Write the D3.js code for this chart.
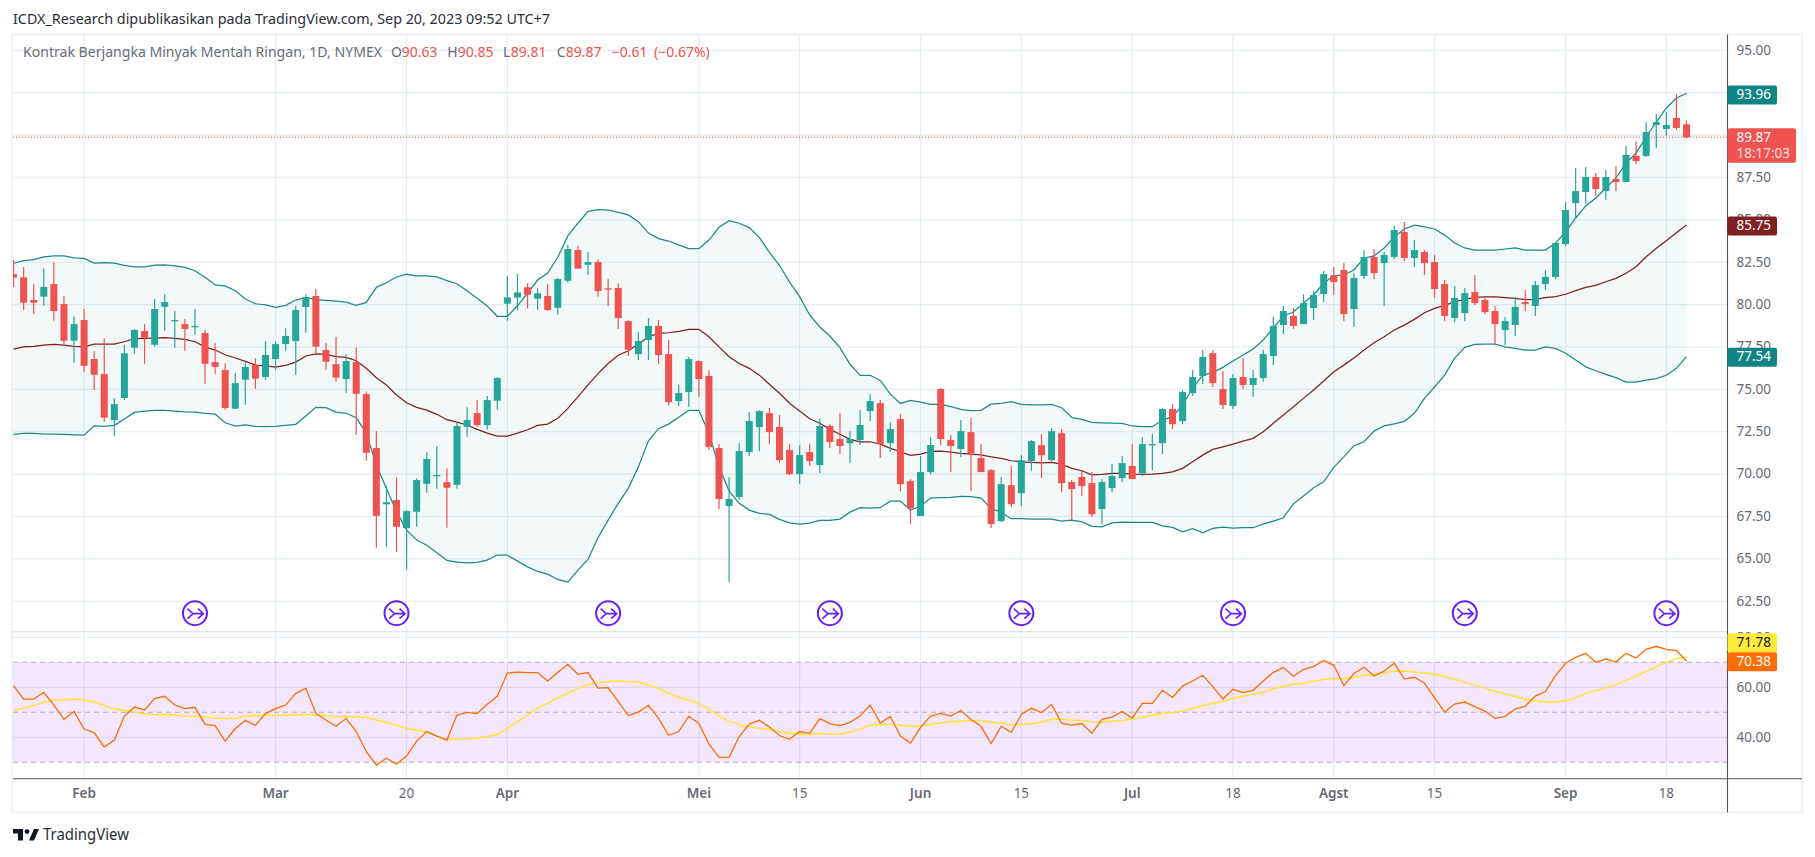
<!DOCTYPE html>
<html>
<head>
<meta charset="utf-8">
<title>CL1! 1D</title>
<script src="https://cdn.jsdelivr.net/npm/d3@7"></script>
<style>
    html, body { margin: 0; padding: 0; background: #fff; overflow: hidden; }
    text { font-family: "Noto Sans", sans-serif; }
</style>
</head>
<body>
<div id="chart"></div>
<script>
// Daily candles (one value per bar, Jan 23 to Sep 20)
const opens = [
    81.80,81.61,80.27,80.47,81.21,80.03,77.87,79.09,76.79,75.90,
    73.19,74.49,77.46,78.44,77.63,79.87,79.05,78.85,78.66,78.32,
    76.61,76.14,73.86,75.57,76.43,75.73,76.79,77.67,77.85,79.86,
    80.51,77.32,76.49,75.61,76.61,74.72,71.54,68.22,68.47,66.82,
    67.78,69.43,69.90,69.53,69.37,72.79,73.60,72.89,74.33,80.05,
    80.41,81.02,80.35,80.51,79.81,81.41,83.22,82.35,82.51,80.96,
    80.98,79.03,77.08,77.91,78.74,77.08,74.31,74.84,76.67,75.79,
    71.54,68.12,68.65,71.30,72.78,73.60,72.78,71.42,70.00,71.30,
    70.54,72.84,72.07,71.83,72.01,73.72,74.19,71.83,73.25,69.59,
    67.53,70.12,75.02,72.01,71.48,72.48,70.95,70.24,67.23,69.35,
    68.88,70.77,71.71,70.83,72.42,69.53,69.83,69.47,67.94,69.18,
    69.77,70.48,70.06,71.71,71.83,73.84,73.13,74.78,75.79,77.14,
    75.02,74.02,75.73,75.26,75.67,76.97,78.80,79.33,78.85,79.80,
    80.62,81.74,82.04,79.74,81.69,82.81,82.45,82.81,84.28,82.75,
    83.10,82.51,81.21,79.21,79.50,80.74,80.27,79.62,78.50,78.80,
    80.15,79.92,81.21,81.63,83.57,85.99,86.64,87.53,86.70,87.41,
    87.23,88.77,88.77,90.59,90.36,91.01,90.63
];
const highs = [
    82.63,82.22,81.20,82.14,82.49,80.51,79.29,79.74,77.26,78.01,
    74.47,77.61,78.56,78.85,80.33,80.62,79.62,79.15,79.74,78.50,
    77.73,76.53,75.95,76.59,76.83,77.83,77.83,78.60,79.92,80.61,
    80.92,77.73,78.09,77.07,77.48,74.88,72.54,69.31,69.81,67.88,
    69.75,71.29,71.66,70.34,73.03,73.94,74.37,74.61,75.71,81.69,
    81.80,81.25,80.96,81.20,81.57,83.51,83.46,83.10,82.67,81.51,
    81.25,79.09,78.38,79.21,79.09,77.91,75.26,76.91,76.70,76.14,
    71.77,69.83,71.83,73.66,73.78,73.90,73.49,71.77,71.71,71.77,
    73.25,72.95,73.60,72.54,73.78,74.72,74.37,73.07,73.54,69.71,
    71.07,72.19,75.08,72.30,73.19,73.31,71.77,70.30,69.83,70.48,
    71.12,72.01,72.36,72.72,72.66,69.65,70.18,70.12,69.71,70.59,
    71.07,71.77,72.19,72.36,73.90,74.13,74.96,76.14,77.32,77.32,
    76.08,75.90,76.85,76.14,77.32,79.27,79.92,79.80,80.62,80.80,
    81.98,82.22,82.45,81.86,83.22,83.28,83.10,84.64,84.87,83.81,
    83.22,82.93,81.45,81.10,80.98,81.75,80.39,79.92,79.27,80.45,
    80.86,81.39,82.04,83.69,86.05,88.06,88.12,87.76,87.94,88.18,
    89.36,89.65,90.77,91.24,91.36,92.42,90.85
];
const lows = [
    81.04,79.68,79.44,79.93,79.05,77.67,76.57,76.04,74.96,73.09,
    72.25,74.37,77.10,76.51,77.52,78.46,77.46,77.28,78.22,75.33,
    75.92,73.80,73.84,74.09,75.04,75.57,76.16,77.28,75.86,78.34,
    77.10,76.16,75.45,74.80,72.32,70.79,65.66,65.72,65.42,64.36,
    66.89,68.90,69.14,66.84,69.14,72.20,72.79,72.62,73.80,79.05,
    79.68,79.76,79.68,79.62,79.40,81.29,82.10,81.75,80.47,79.92,
    78.56,76.97,76.73,76.73,76.49,74.07,74.02,73.96,74.55,71.42,
    67.94,63.63,68.47,71.07,71.36,71.77,70.65,69.94,69.41,70.48,
    70.06,71.54,71.18,70.65,71.71,73.13,70.95,71.30,69.00,67.05,
    67.53,70.00,71.71,70.12,71.01,69.00,70.12,66.82,67.17,68.06,
    68.12,70.18,69.77,70.77,68.94,67.29,68.71,67.47,67.05,68.94,
    69.53,69.71,69.89,70.24,71.18,72.66,72.95,74.61,75.31,75.14,
    73.84,73.84,75.02,74.55,75.43,76.44,78.26,78.56,78.85,79.09,
    80.15,80.57,79.03,78.68,81.51,81.51,79.92,82.69,82.57,82.22,
    81.75,80.39,79.03,78.97,79.03,79.97,79.44,77.61,77.61,78.15,
    79.62,79.33,80.86,81.51,83.46,85.05,85.93,86.41,86.17,86.70,
    87.23,88.29,88.71,89.24,89.95,90.30,89.81
];
const closes = [
    81.59,80.11,80.11,81.04,79.62,77.87,78.85,76.39,75.86,73.33,
    74.13,77.13,78.50,78.05,79.74,80.15,79.09,78.56,78.74,76.51,
    76.33,73.90,75.37,76.32,75.63,77.03,77.67,78.15,79.68,80.43,
    77.52,76.63,75.69,76.67,74.74,71.26,67.54,68.35,66.89,67.82,
    69.65,70.89,69.95,69.20,72.84,73.19,72.89,74.37,75.67,80.43,
    80.72,80.58,80.67,79.68,81.51,83.28,82.12,82.51,80.80,80.88,
    79.21,77.34,77.85,78.74,77.03,74.25,74.78,76.79,75.61,71.60,
    68.53,68.53,71.36,73.13,73.72,72.48,70.83,70.00,71.13,70.77,
    72.84,71.89,71.66,72.07,72.90,74.31,71.77,72.66,69.41,68.00,
    70.12,71.72,72.07,71.66,72.54,71.24,70.12,67.05,69.41,68.23,
    70.83,71.95,71.12,72.54,69.47,69.12,69.30,67.64,69.53,69.89,
    70.65,69.71,71.77,71.77,73.84,72.95,74.84,75.73,76.91,75.37,
    74.08,75.67,75.26,75.67,77.08,78.74,79.62,78.74,80.09,80.57,
    81.80,81.33,79.44,81.57,82.81,81.86,82.93,84.40,82.75,83.22,
    82.45,80.92,79.33,80.39,80.68,80.09,79.56,78.85,79.03,79.86,
    80.03,81.15,81.63,83.63,85.58,86.70,87.53,86.82,87.53,87.23,
    88.83,88.47,90.18,90.77,90.59,90.42,89.87
];

// Bollinger bands
const bbUpper = [
    82.44,82.59,82.65,82.82,82.88,82.87,82.75,82.73,82.45,82.47,
    82.45,82.32,82.23,82.23,82.33,82.35,82.28,82.20,82.00,81.61,
    81.16,81.10,80.82,80.33,80.05,79.99,79.84,79.96,80.27,80.43,
    80.29,80.25,80.21,80.15,79.96,80.13,81.02,81.29,81.63,81.79,
    81.70,81.70,81.63,81.41,81.23,80.82,80.37,79.92,79.31,79.31,
    79.93,80.66,81.45,81.86,82.79,84.06,84.80,85.50,85.60,85.58,
    85.44,85.29,84.89,84.22,83.89,83.75,83.52,83.30,83.30,83.81,
    84.56,84.95,84.80,84.54,83.97,83.08,82.32,81.33,80.47,79.39,
    78.68,78.15,77.46,76.48,75.83,75.83,75.53,74.72,74.17,74.35,
    74.25,74.12,74.13,73.98,73.82,73.74,73.76,74.13,74.17,74.27,
    74.12,74.08,74.08,74.12,73.92,73.35,73.23,73.05,73.03,73.01,
    73.00,72.84,72.80,72.80,73.19,73.39,74.08,75.08,75.84,76.00,
    76.30,76.67,77.03,77.38,77.91,78.62,79.33,79.56,80.09,80.57,
    81.27,81.69,81.75,82.04,82.75,82.87,83.34,83.99,84.46,84.69,
    84.58,84.46,84.10,83.63,83.34,83.22,83.22,83.22,83.28,83.34,
    83.22,83.22,83.22,83.63,84.28,85.11,85.82,86.29,86.88,87.47,
    88.35,88.94,89.89,90.77,91.60,92.19,92.47
];
const bbBasis = [
    77.38,77.50,77.54,77.61,77.66,77.61,77.54,77.51,77.67,77.67,
    77.67,77.81,77.99,78.01,78.03,78.05,78.01,77.95,77.81,77.51,
    77.32,77.04,76.85,76.65,76.43,76.38,76.32,76.42,76.61,76.97,
    77.10,77.07,76.93,76.89,76.69,76.24,75.69,75.26,74.67,74.21,
    73.94,73.78,73.53,73.21,73.07,72.90,72.64,72.42,72.25,72.25,
    72.42,72.62,72.88,72.95,73.29,73.88,74.56,75.26,75.93,76.53,
    77.01,77.28,77.67,78.10,78.31,78.34,78.42,78.54,78.54,78.10,
    77.51,76.93,76.53,76.24,75.84,75.30,74.77,74.18,73.72,73.27,
    73.00,72.64,72.35,72.05,71.91,71.91,71.77,71.52,71.32,71.11,
    71.18,71.34,71.36,71.30,71.23,71.18,71.14,71.02,70.93,70.79,
    70.73,70.69,70.67,70.69,70.59,70.34,70.20,69.96,69.99,70.05,
    70.05,70.00,69.99,70.00,70.05,70.14,70.34,70.73,71.12,71.46,
    71.61,71.77,71.95,72.11,72.50,73.00,73.49,73.98,74.47,74.96,
    75.49,76.04,76.43,76.85,77.32,77.75,78.10,78.50,78.79,79.13,
    79.52,79.78,79.96,80.17,80.31,80.43,80.45,80.45,80.41,80.37,
    80.29,80.31,80.41,80.47,80.61,80.82,81.02,81.14,81.35,81.55,
    81.85,82.23,82.82,83.32,83.77,84.24,84.69
];
const bbLower = [
    72.35,72.41,72.41,72.36,72.36,72.35,72.32,72.30,72.85,72.82,
    72.88,73.25,73.64,73.72,73.76,73.76,73.72,73.68,73.66,73.59,
    73.54,73.03,72.84,72.90,72.82,72.80,72.82,72.88,72.94,73.43,
    73.94,73.92,73.66,73.59,73.33,72.41,70.54,69.16,67.78,66.70,
    66.11,65.81,65.36,64.91,64.81,64.77,64.79,64.93,65.23,65.23,
    64.87,64.53,64.26,64.10,63.79,63.63,64.34,64.97,66.26,67.29,
    68.28,69.16,70.43,71.97,72.68,72.95,73.35,73.76,73.76,72.41,
    70.43,69.00,68.28,67.88,67.69,67.63,67.33,67.13,67.05,67.11,
    67.27,67.27,67.35,67.76,68.02,68.00,68.02,68.41,68.41,67.88,
    68.12,68.59,68.61,68.63,68.69,68.67,68.59,67.98,67.74,67.37,
    67.37,67.35,67.35,67.35,67.23,67.29,67.19,66.92,66.89,67.13,
    67.17,67.15,67.15,67.15,66.95,66.86,66.60,66.78,66.54,66.80,
    66.88,66.82,66.84,66.84,67.05,67.23,67.43,68.25,68.71,69.20,
    69.55,70.40,71.02,71.67,71.91,72.54,72.85,72.97,73.11,73.59,
    74.47,75.14,75.84,76.85,77.48,77.66,77.67,77.67,77.51,77.42,
    77.32,77.32,77.51,77.42,77.13,76.73,76.33,76.10,75.89,75.69,
    75.43,75.43,75.55,75.63,75.83,76.24,76.93
];

// RSI pane
const rsiValues = [
    60.7,55.3,55.3,58.0,52.9,47.2,50.3,43.3,41.9,36.1,
    38.9,48.5,52.1,50.9,55.5,56.4,52.9,51.5,52.0,45.2,
    44.7,38.5,43.5,46.7,44.8,49.5,51.5,52.9,57.6,59.6,
    49.6,46.9,44.4,47.6,42.3,34.3,28.9,31.6,29.3,32.5,
    38.5,42.3,40.5,38.9,48.9,50.0,49.5,53.2,56.4,65.7,
    66.1,65.9,65.9,62.5,66.0,69.2,65.2,65.9,59.7,59.9,
    54.3,48.7,50.1,52.8,47.6,40.8,42.3,48.4,45.5,37.3,
    32.1,32.0,40.3,45.3,46.8,44.1,40.7,39.2,42.3,41.6,
    47.5,45.5,44.7,46.0,48.5,52.9,45.7,48.3,40.5,37.7,
    44.0,48.5,49.6,48.5,50.7,47.1,44.4,37.5,44.4,42.0,
    49.1,51.6,49.9,53.1,45.7,44.9,45.5,41.6,47.2,48.1,
    50.3,47.7,53.6,53.6,58.8,56.0,60.5,62.5,64.8,60.3,
    55.3,59.2,57.9,58.8,62.5,66.0,67.9,64.4,67.2,68.3,
    70.7,68.8,60.7,65.5,68.0,64.5,66.5,69.6,63.3,64.0,
    61.6,55.9,50.1,53.3,54.1,52.3,50.5,47.6,48.4,51.3,
    52.5,56.5,58.3,64.7,69.6,72.0,73.6,70.0,71.3,70.1,
    73.6,71.7,75.2,76.4,75.2,74.7,70.5
];
const rsiMa = [
    50.8,51.6,52.8,54.0,54.8,54.9,55.2,54.9,54.1,52.8,
    51.3,50.7,50.1,49.3,49.1,49.1,48.9,48.4,48.4,48.1,
    47.7,47.5,47.5,48.4,48.7,48.7,48.7,48.9,48.9,49.2,
    48.9,48.7,48.3,48.3,48.1,47.9,46.9,46.0,44.8,43.6,
    42.8,42.1,40.5,39.1,39.2,39.3,39.7,40.3,41.1,43.6,
    46.3,48.9,51.7,53.6,55.9,57.7,59.6,61.1,61.9,62.3,
    62.5,62.3,62.0,60.9,59.6,57.7,56.0,54.9,53.6,51.3,
    48.7,46.4,45.1,44.1,43.6,43.2,42.3,41.5,41.2,41.2,
    41.5,41.3,41.2,42.1,43.3,44.8,45.1,45.2,44.8,44.4,
    44.5,45.2,45.7,46.3,46.5,46.7,46.7,46.1,45.7,45.1,
    45.1,45.5,46.1,47.2,47.2,46.9,46.7,46.1,46.0,46.3,
    46.7,47.3,48.0,48.8,49.5,49.9,50.5,51.6,52.7,53.6,
    54.4,55.5,56.5,57.2,58.1,59.5,60.4,61.2,61.6,62.4,
    63.1,63.6,63.3,64.0,64.7,65.2,65.9,66.4,66.5,66.1,
    65.7,65.3,64.3,63.2,62.1,60.9,59.7,58.4,57.3,56.3,
    55.2,54.5,54.1,54.1,54.7,55.9,57.5,58.7,59.9,61.1,
    62.8,64.5,66.4,68.3,70.0,71.5,72.0
];

// Axis ticks and labels
const priceTicks = [95, 92.5, 90, 87.5, 85, 82.5, 80, 77.5, 75, 72.5, 70, 67.5, 65, 62.5];
const rsiTicks = [80, 60, 40];
const rsiBands = [70, 50, 30];
const timeBars = [7, 26, 39, 49, 68, 78, 90, 100, 111, 121, 131, 141, 154, 164];
const timeLabels = ["Feb", "Mar", "20", "Apr", "Mei", "15", "Jun", "15", "Jul", "18", "Agst", "15", "Sep", "18"];
const monthLabels = ["Feb", "Mar", "Apr", "Mei", "Jun", "Jul", "Agst", "Sep"];
const eventBars = [18, 38, 59, 81, 100, 121, 144, 164];

const titleText = "ICDX_Research dipublikasikan pada TradingView.com, Sep 20, 2023 09:52 UTC+7";
const legendName = "Kontrak Berjangka Minyak Mentah Ringan, 1D, NYMEX";

// Layout of the panes
const W = 1815, H = 857;
const plotLeft = 13, plotRight = 1727.5, plotTop = 34.5, plotBottom = 812.5, timeY = 778.7, paneY = 631.7;
const green = "#26a69a", red = "#ef5350", bandCol = "#1d8a88", basisCol = "#801f1f";
const gridCol = "#e3edf3", textCol = "#666974";

const svg = d3.select("#chart").append("svg")
    .attr("width", W).attr("height", H)
    .style("display", "block");

svg.append("defs").append("clipPath").attr("id", "plot")
    .append("rect").attr("x", plotLeft).attr("y", plotTop).attr("width", plotRight - plotLeft).attr("height", timeY - plotTop);

// Scales
const x = d3.scaleLinear().domain([0, 166]).range([13.55, 1686.5]);
const y = d3.scaleLinear().domain([62.5, 95]).range([601.3, 50.3]);
const yRsi = d3.scaleLinear().domain([30, 70]).range([762.3, 662.3]);
const bars = d3.range(opens.length);

// Frame
svg.append("rect").attr("x", 12).attr("y", 34.5).attr("width", 1790).attr("height", 778)
    .attr("fill", "none").attr("stroke", "#f0f3fa").attr("stroke-width", 2.4);

// Grid
const grid = svg.append("g").attr("class", "grid").attr("stroke", gridCol).attr("stroke-width", 1.15);
grid.selectAll(".gx").data(timeBars).enter().append("line")
    .attr("x1", d => x(d)).attr("x2", d => x(d)).attr("y1", plotTop).attr("y2", timeY);
grid.selectAll(".gy").data(priceTicks).enter().append("line")
    .attr("x1", plotLeft).attr("x2", plotRight).attr("y1", d => y(d)).attr("y2", d => y(d));
grid.selectAll(".gr").data(rsiTicks).enter().append("line")
    .attr("x1", plotLeft).attr("x2", plotRight).attr("y1", d => yRsi(d)).attr("y2", d => yRsi(d));

// RSI background band
svg.append("rect").attr("x", plotLeft).attr("width", plotRight - plotLeft)
    .attr("y", yRsi(70)).attr("height", yRsi(30) - yRsi(70))
    .attr("fill", "#9105e1").attr("fill-opacity", 0.1);
svg.selectAll(".rsi-band").data(rsiBands).enter().append("line")
    .attr("x1", plotLeft).attr("x2", plotRight).attr("y1", d => yRsi(d)).attr("y2", d => yRsi(d))
    .attr("stroke", "#b2b0b8").attr("stroke-width", 1.1).attr("stroke-dasharray", "5 4");

// Pane separator
svg.append("line").attr("x1", plotLeft).attr("x2", plotRight).attr("y1", paneY).attr("y2", paneY)
    .attr("stroke", "#e0e3eb").attr("stroke-width", 1.2);

const plot = svg.append("g").attr("clip-path", "url(#plot)");

// Bollinger bands behind the candles
plot.append("path").datum(bars)
    .attr("fill", "#1d8a88").attr("fill-opacity", 0.055)
    .attr("d", d3.area().x(i => x(i)).y0(i => y(bbLower[i])).y1(i => y(bbUpper[i])));

const priceLine = s => d3.line().x(i => x(i)).y(i => y(s[i]))(bars);
[[bbUpper, bandCol], [bbLower, bandCol], [bbBasis, basisCol]].forEach(([s, col]) => {
    plot.append("path").attr("d", priceLine(s))
        .attr("fill", "none").attr("stroke", col).attr("stroke-width", 1.25);
});

// Last price line
plot.append("line").attr("x1", plotLeft).attr("x2", plotRight)
    .attr("y1", y(closes[166])).attr("y2", y(closes[166]))
    .attr("stroke", red).attr("stroke-width", 1).attr("stroke-dasharray", "1 2");

// Candles
const candle = i => closes[i] >= opens[i] ? green : red;
plot.selectAll(".wick").data(bars).enter().append("rect")
    .attr("class", "wick")
    .attr("x", i => x(i) - 0.6).attr("width", 1.2)
    .attr("y", i => y(highs[i]))
    .attr("height", i => y(lows[i]) - y(highs[i]))
    .attr("fill", candle);
plot.selectAll(".body").data(bars).enter().append("rect")
    .attr("class", "body")
    .attr("x", i => x(i) - 3.5).attr("width", 7)
    .attr("y", i => y(Math.max(opens[i], closes[i])))
    .attr("height", i => Math.max(1.2, Math.abs(y(opens[i]) - y(closes[i]))))
    .attr("fill", candle);

// RSI lines
const rsiLine = s => d3.line().x(i => x(i)).y(i => yRsi(s[i]))(bars);
plot.append("path").attr("d", rsiLine(rsiMa))
    .attr("fill", "none").attr("stroke", "#ffe433").attr("stroke-width", 1.4);
plot.append("path").attr("d", rsiLine(rsiValues))
    .attr("fill", "none").attr("stroke", "#ff6d00").attr("stroke-width", 1.3);

// Event markers
const marker = svg.selectAll(".event").data(eventBars).enter().append("g")
    .attr("class", "event")
    .attr("transform", d => `translate(${x(d)},${y(61.8)})`)
    .attr("fill", "none").attr("stroke", "#651fff").attr("stroke-width", 1.6);
marker.append("circle").attr("r", 12).attr("stroke-width", 2).attr("fill", "#fff");
marker.append("path").attr("d", "M-7.5,-4.5L-2,0.5L-7.5,5.5M-2,0.5H8.5M3,-4.5L8.5,0.5L3,5.5");

// Axes lines
svg.append("line").attr("x1", plotLeft).attr("x2", 1802).attr("y1", timeY).attr("y2", timeY)
    .attr("stroke", "#50535e").attr("stroke-width", 1.1);
svg.append("line").attr("x1", plotRight).attr("x2", plotRight).attr("y1", plotTop).attr("y2", plotBottom)
    .attr("stroke", "#50535e").attr("stroke-width", 1.1);

// Price and RSI axes
const styleAxis = g => {
    g.select(".domain").remove();
    g.selectAll("text").attr("fill", textCol).style("font-size", "13.5px").style("font-family", '"Noto Sans", sans-serif');
};
svg.append("g").attr("transform", `translate(${plotRight},0)`)
    .call(d3.axisRight(y).tickValues(priceTicks).tickFormat(d3.format(".2f")).tickSize(0).tickPadding(9).offset(0))
    .call(styleAxis);
svg.append("g").attr("transform", `translate(${plotRight},0)`)
    .call(d3.axisRight(yRsi).tickValues(rsiTicks).tickFormat(d3.format(".2f")).tickSize(0).tickPadding(9).offset(0))
    .call(styleAxis);

// Time axis
svg.append("g").attr("transform", `translate(0,${timeY})`)
    .call(d3.axisBottom(x).tickValues(timeBars).tickFormat((d, i) => timeLabels[i]).tickSize(0).tickPadding(10).offset(0))
    .call(styleAxis)
    .selectAll("text")
    .style("font-weight", (d, i) => monthLabels.includes(timeLabels[i]) ? 600 : 400);

// Value tags on the price axis
const tag = (cy, label, bg, fg) => {
    svg.append("rect").attr("x", plotRight).attr("y", cy - 9.5).attr("width", 49.5).attr("height", 19)
        .attr("rx", 2).attr("fill", bg);
    svg.append("text").attr("x", plotRight + 9).attr("y", cy + 0.5).attr("dominant-baseline", "middle")
        .attr("fill", fg).style("font-size", "13.5px").text(label);
};
tag(95, "93.96", "#138484", "#fff");
tag(226, "85.75", "#801f1f", "#fff");
tag(357.3, "77.54", "#138484", "#fff");
tag(642.7, "71.78", "#ffeb3b", "#131722");
tag(661.7, "70.38", "#ff6d00", "#fff");

svg.append("rect").attr("x", plotRight).attr("y", 128.3).attr("width", 68.5).attr("height", 34.4)
    .attr("rx", 2).attr("fill", red);
svg.append("text").attr("x", plotRight + 9).attr("y", 138.5).attr("dominant-baseline", "middle")
    .attr("fill", "#fff").style("font-size", "13.5px").text("89.87");
svg.append("text").attr("x", plotRight + 9).attr("y", 154.5).attr("dominant-baseline", "middle")
    .attr("fill", "#fde0df").style("font-size", "13.5px").text("18:17:03");

// Title and legend
svg.append("text").attr("x", 13).attr("y", 20).attr("dominant-baseline", "middle")
    .attr("fill", "#2a2e39").style("font-size", "14px")
    .attr("textLength", 537).attr("lengthAdjust", "spacingAndGlyphs").text(titleText);
svg.append("text").attr("x", 23).attr("y", 53.7).attr("dominant-baseline", "middle")
    .attr("fill", "#6a6d78").style("font-size", "14px")
    .attr("textLength", 359).attr("lengthAdjust", "spacingAndGlyphs").text(legendName);

const legendParts = [
    ["O", 391, textCol], ["90.63", 401.7, red],
    ["H", 447.3, textCol], ["90.85", 457.7, red],
    ["L", 503, textCol], ["89.81", 510.7, red],
    ["C", 556.7, textCol], ["89.87", 565.7, red],
    ["\u22120.61", 611.7, red], ["(\u22120.67%)", 654, red]
];
svg.selectAll(".legend").data(legendParts).enter().append("text")
    .attr("x", d => d[1]).attr("y", 53.7).attr("dominant-baseline", "middle")
    .attr("fill", d => d[2]).style("font-size", "14px").text(d => d[0]);

// TradingView logo
const logo = svg.append("g").attr("transform", "translate(13,829)").attr("fill", "#131722");
logo.append("path").attr("d", "M0,0H10V11.5H5V4.5H0ZM16,11.5L21,0H26L21,11.5Z");
logo.append("circle").attr("cx", 14).attr("cy", 2.6).attr("r", 2.4);
svg.append("text").attr("x", 43).attr("y", 835).attr("dominant-baseline", "middle")
    .attr("fill", "#2a2e39").style("font-size", "17px")
    .attr("textLength", 86).attr("lengthAdjust", "spacingAndGlyphs").text("TradingView");
</script>
</body>
</html>
